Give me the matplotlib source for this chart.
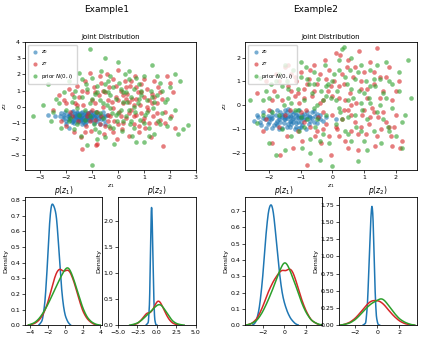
import numpy as np
import matplotlib
matplotlib.use("Agg")
import matplotlib.pyplot as plt

plt.rcParams.update({
    "font.size": 4.5,
    "axes.linewidth": 0.6,
    "xtick.major.size": 2,
    "ytick.major.size": 2,
    "xtick.major.width": 0.5,
    "ytick.major.width": 0.5,
    "xtick.major.pad": 1.5,
    "ytick.major.pad": 1.5,
    "axes.titlepad": 2.5,
    "axes.labelpad": 1.5,
})

BLUE, RED, GREEN = "#1f77b4", "#d62728", "#2ca02c"

# ---------- Example 1: scatter samples ----------
ex1_z0 = [(-2.7,-0.5),(-2.45,-0.55),(-2.25,-0.6),(-2.2,-0.4),(-2.15,-0.75),(-2.1,-0.5),(-2.05,-0.3),(-2.0,-0.9),(-1.9,-1.35),(-1.95,-0.6),
          (-1.9,-0.45),(-1.85,-0.7),(-1.8,-0.95),(-1.8,-0.35),(-1.75,-0.55),(-1.7,-0.8),(-1.7,-1.0),(-1.65,-0.45),(-1.6,-0.65),(-1.6,-0.3),
          (-1.55,-0.75),(-1.5,-0.55),(-1.5,-0.9),(-1.45,-0.4),(-1.45,-0.65),(-1.4,-1.1),(-1.4,-0.5),(-1.35,-0.8),(-1.3,-0.35),(-1.3,-0.6),
          (-1.25,-0.95),(-1.2,-0.7),(-1.2,-0.45),(-1.15,-0.85),(-1.1,-0.55),(-1.1,-0.3),(-1.05,-0.7),(-1.0,-0.5),(-1.0,-0.8),(-0.95,-0.4),
          (-0.9,-0.65),(-0.85,-0.55),(-0.8,-0.9),(-0.75,-0.45),(-0.7,-0.6),(-0.65,-0.75),(-0.6,-0.35),(-0.55,-0.85),(-0.5,-0.6),(-0.45,-0.5),
          (-1.6,-0.85),(-1.45,-0.6),(-1.25,-0.75),(-1.75,-0.25),(-1.35,-0.95),(-1.05,-0.65),(-2.0,-1.05),(-1.55,-0.5),(-0.95,-1.0),(-1.15,-0.4),
          (-1.85,-0.8),(-1.4,-0.3),(-1.65,-0.6),(-1.3,-1.05),(-0.85,-0.75),(-1.5,-0.7),(-1.2,-0.55),(-1.9,-0.55),(-0.7,-1.05),(-0.5,-1.1),
          (-1.5,-0.6),(-1.35,-0.7),(-1.2,-0.5),(-1.6,-0.4),(-1.45,-0.85),(-1.25,-0.6),(-1.1,-0.8),(-1.7,-0.7),(-1.55,-0.95),(-1.0,-0.6),
          (-1.3,-0.45),(-1.85,-0.5),(-0.9,-0.5),(-1.4,-0.75),(-1.15,-0.65),(-1.65,-0.55),(-2.1,-0.65),(-0.75,-0.7),(-1.05,-0.35),(-1.5,-0.45),
          (-1.95,-0.75),(-0.6,-0.55),(-1.3,-0.85),(-1.75,-0.9),(-0.85,-0.35)]

ex1_zT = [(-2.5,-0.2),(-2.3,0.7),(-2.2,-0.9),(-2.1,0.4),(-2.0,-1.2),(-1.9,1.1),(-1.85,-0.3),(-1.8,0.8),(-1.7,-1.6),(-1.65,0.2),
          (-1.6,1.3),(-1.55,-0.9),(-1.5,0.6),(-1.45,-1.9),(-1.4,-2.6),(-1.35,0.1),(-1.3,1.6),(-1.25,-1.2),(-1.2,0.9),(-1.15,-0.4),
          (-1.1,2.1),(-1.05,-1.5),(-1.0,0.4),(-0.95,1.2),(-0.9,-0.8),(-0.85,-2.4),(-0.8,-2.3),(-0.75,0.7),(-0.7,-1.1),(-0.65,1.5),
          (-0.6,0.0),(-0.55,-1.7),(-0.5,0.9),(-0.45,2.0),(-0.4,-0.5),(-0.35,1.2),(-0.3,-1.3),(-0.25,0.3),(-0.2,1.7),(-0.15,-0.9),
          (-0.1,0.6),(-0.05,-2.0),(0.0,2.3),(0.05,-0.3),(0.1,1.0),(0.15,-1.4),(0.2,0.2),(0.25,1.6),(0.3,-0.7),(0.35,0.8),
          (0.4,-1.8),(0.45,1.3),(0.5,-0.2),(0.55,0.5),(0.6,-1.1),(0.65,1.9),(0.7,-0.5),(0.75,0.9),(0.8,-1.6),(0.85,0.1),
          (0.9,1.4),(0.95,-0.9),(1.0,0.6),(1.05,-1.3),(1.1,1.1),(1.15,-0.2),(1.2,0.4),(1.25,-1.9),(1.3,0.8),(1.35,-0.6),
          (1.4,1.6),(1.45,-1.0),(1.5,0.2),(1.55,1.2),(1.6,-0.8),(1.7,0.5),(1.75,-2.45),(1.8,-0.3),(1.9,1.9),(2.0,1.5),
          (2.05,-0.6),(2.2,-1.3),(2.1,0.9),(-0.65,-0.6),(0.3,0.5),(-0.2,-0.1),(0.6,0.1),(-1.0,-0.2),(0.9,-0.4),(-0.4,0.4),
          (-1.6,0.1),(-1.2,-0.6),(-0.9,0.2),(-0.6,1.0),(-0.3,-0.6),(0.0,0.4),(0.2,-1.0),(0.4,0.3),(0.7,0.5),(1.0,-0.7),
          (1.3,0.2),(1.6,0.9),(-1.8,-0.6),(-1.4,1.0),(-0.8,-0.3),(-0.5,-1.2),(-0.1,1.3),(0.3,1.2),(0.6,-0.6),(0.9,0.9),
          (1.2,-1.0),(1.5,-0.4),(-1.1,-0.9),(-0.7,1.9),(-0.2,-1.6),(0.1,-0.6),(0.5,1.6),(0.8,-1.2),(1.1,0.0),(1.4,0.6),
          (-2.0,0.2),(-1.3,-1.6),(-0.4,-0.9),(0.0,-1.1),(0.4,-0.4),(0.7,1.2),(1.0,1.7),(1.8,-1.0),(-0.9,0.9),(0.2,0.7)]

ex1_prior = [(-3.3,-0.55),(-2.9,0.1),(-2.7,1.4),(-2.6,-0.9),(-2.4,0.5),(-2.2,-1.3),(-2.1,0.9),(-2.0,-0.2),(-1.9,1.6),(-1.85,-0.7),
             (-1.8,0.3),(-1.7,-1.4),(-1.65,1.0),(-1.6,-0.1),(-1.5,2.1),(-1.45,-1.8),(-1.4,0.6),(-1.3,-0.8),(-1.25,1.4),(-1.2,-2.4),
             (-1.1,3.6),(-1.1,0.2),(-1.0,-3.6),(-1.0,1.8),(-0.95,-1.1),(-0.9,0.8),(-0.85,-0.3),(-0.8,1.3),(-0.75,-1.6),(-0.7,0.4),
             (-0.65,2.2),(-0.6,-0.7),(-0.55,1.0),(-0.5,3.0),(-0.5,-1.9),(-0.45,0.1),(-0.4,1.6),(-0.35,-1.2),(-0.3,0.7),(-0.25,-0.4),
             (-0.2,1.2),(-0.15,-2.3),(-0.1,0.5),(-0.05,-0.9),(0.0,2.8),(0.05,1.5),(0.1,-0.2),(0.15,-1.5),(0.2,0.9),(0.25,2.0),
             (0.3,-0.6),(0.35,0.3),(0.4,1.7),(0.45,-1.1),(0.5,0.6),(0.55,-1.8),(0.6,1.1),(0.65,-0.3),(0.7,-2.2),(0.75,0.2),
             (0.8,1.4),(0.85,-0.8),(0.9,0.7),(1.0,-2.2),(1.0,1.9),(1.05,-0.5),(1.1,0.4),(1.2,-1.3),(1.25,1.0),(1.3,2.6),
             (1.35,-0.1),(1.4,-1.7),(1.5,0.7),(1.55,-0.9),(1.6,1.5),(1.7,-0.4),(1.8,0.3),(1.9,-1.2),(2.0,1.2),(2.2,2.0),
             (2.2,-0.2),(2.3,-1.7),(2.4,1.6),(2.5,-1.4),(2.7,-1.15),(-0.3,-0.1),(0.6,0.0),(-0.8,0.9),(0.2,-0.9),(-1.5,-0.5),
             (-1.7,0.6),(-1.3,-0.2),(-1.0,0.5),(-0.7,-0.4),(-0.4,0.9),(-0.1,-0.5),(0.2,0.3),(0.5,-0.9),(0.8,0.5),(1.1,-0.3),
             (1.4,0.3),(1.7,1.0),(-2.3,0.2),(-1.9,-0.9),(-1.2,1.1),(-0.9,-1.4),(-0.5,1.4),(-0.2,-1.3),(0.1,1.1),(0.4,-0.2),
             (0.7,1.8),(1.0,-1.0),(1.3,0.6),(1.6,-1.1),(-1.6,-1.1),(-1.1,-0.6),(-0.6,0.2),(-0.3,1.9),(0.0,-0.4),(0.3,0.9),
             (0.6,-1.3),(0.9,1.0),(1.2,-1.8),(1.5,1.9),(2.0,-0.7),(-2.5,-0.3),(-0.8,-2.0),(0.4,2.2),(-1.4,1.7),(1.9,0.5)]

# ---------- Example 2: scatter samples ----------
ex2_z0 = [(-2.5,-0.65),(-2.4,-0.4),(-2.35,-0.5),(-2.25,-0.85),(-2.2,-0.3),(-2.15,-0.6),(-2.1,-0.95),(-2.05,-0.45),(-2.0,-0.7),(-1.95,-0.25),
          (-1.9,-0.55),(-1.85,-0.85),(-1.8,-0.4),(-1.75,-0.65),(-1.7,-1.0),(-1.65,-0.3),(-1.6,-0.5),(-1.55,-0.75),(-1.5,-0.2),(-1.5,-0.6),
          (-1.45,-0.9),(-1.4,-0.45),(-1.35,-0.65),(-1.3,-0.3),(-1.3,-0.8),(-1.25,-0.55),(-1.2,-1.0),(-1.15,-0.4),(-1.1,-0.7),(-1.05,-0.2),
          (-1.0,-0.55),(-0.95,-0.85),(-0.9,-0.35),(-0.85,-0.6),(-0.8,-0.45),(-0.75,-0.8),(-0.7,-0.5),(-0.65,-0.3),(-0.6,-0.7),(-0.55,-0.45),
          (-0.5,-0.75),(-0.45,-0.55),(-0.4,-0.4),(-0.3,-0.65),(-0.2,-0.5),(-1.8,-0.75),(-1.6,-0.95),(-1.4,-0.15),(-1.2,-0.6),(-1.0,-0.9),
          (-1.7,-0.5),(-1.55,-0.35),(-1.35,-0.9),(-1.15,-0.75),(-0.95,-0.5),(-1.95,-0.6),(-2.05,-0.8),(-1.45,-0.55),(-1.25,-0.35),(-0.85,-1.0),
          (-1.75,-0.2),(-1.1,-0.5),(-0.7,-0.65),(-1.65,-0.7),(-2.3,-0.7),(-1.05,-0.95),(-0.6,-0.25),(-1.9,-0.95),(-1.3,-0.5),(0.1,-0.6),
          (-1.5,-0.5),(-1.3,-0.65),(-1.1,-0.4),(-0.9,-0.6),(-1.7,-0.6),(-1.4,-0.8),(-1.2,-0.3),(-1.0,-0.7),(-0.8,-0.3),(-1.6,-0.4),
          (-1.9,-0.4),(-2.0,-0.55),(-1.35,-0.45),(-1.15,-0.9),(-0.65,-0.55),(-0.5,-0.35),(-1.55,-0.6),(-1.25,-0.7),(-0.95,-0.4),(-1.75,-0.85),
          (-2.2,-0.55),(-0.4,-0.6),(-1.45,-0.3),(-1.05,-0.55),(-0.75,-0.45)]

ex2_zT = [(-2.4,0.5),(-2.2,-1.1),(-2.1,1.0),(-2.0,-0.2),(-1.9,-1.6),(-1.85,0.6),(-1.8,1.3),(-1.7,-0.9),(-1.65,-2.1),(-1.6,0.2),
          (-1.5,1.6),(-1.45,-1.3),(-1.4,0.8),(-1.35,-0.2),(-1.3,1.3),(-1.25,-1.8),(-1.2,0.4),(-1.15,1.0),(-1.1,-1.1),(-1.05,0.1),
          (-1.0,1.4),(-0.95,-1.5),(-0.9,0.7),(-0.85,-0.2),(-0.8,-2.5),(-0.75,1.1),(-0.7,-0.9),(-0.65,0.4),(-0.6,1.7),(-0.55,-1.3),
          (-0.5,0.9),(-0.45,-0.5),(-0.4,1.3),(-0.35,-1.6),(-0.3,0.2),(-0.25,1.9),(-0.2,-0.8),(-0.15,0.6),(-0.1,1.5),(-0.05,-2.1),
          (0.0,-0.4),(0.05,1.0),(0.1,2.2),(0.15,-1.0),(0.2,0.3),(0.25,2.1),(0.3,-0.6),(0.35,0.9),(0.4,-1.5),(0.45,1.6),
          (0.5,-0.2),(0.55,0.5),(0.6,-1.1),(0.65,1.2),(0.7,-0.7),(0.75,0.1),(0.8,-1.9),(0.85,2.3),(0.9,0.7),(0.95,-0.4),
          (1.0,1.4),(1.05,-1.2),(1.1,0.3),(1.15,-0.8),(1.2,1.8),(1.25,-0.1),(1.3,0.9),(1.35,-1.7),(1.4,2.4),(1.45,-0.5),
          (1.5,1.2),(1.55,-1.0),(1.6,0.6),(1.7,-0.7),(1.8,1.6),(1.85,-1.3),(1.9,0.2),(2.0,-0.4),(2.1,1.0),(2.2,-1.5),
          (2.15,-1.8),(1.95,-0.9),(0.35,-0.2),(-0.3,-0.3),(0.6,0.0),(-0.9,0.3),(0.2,-1.3),(0.9,-0.9),(1.3,-0.3),(-0.05,0.8),
          (-1.9,0.2),(-1.5,-0.4),(-1.2,1.2),(-0.9,-0.7),(-0.6,0.6),(-0.3,-1.0),(0.0,0.4),(0.3,1.3),(0.6,-0.4),(0.9,1.0),
          (1.2,-0.5),(1.5,0.3),(1.8,-0.9),(-1.7,1.0),(-1.3,0.6),(-1.0,-0.3),(-0.7,1.5),(-0.4,0.1),(-0.1,-1.3),(0.2,0.8),
          (0.5,1.9),(0.8,-1.2),(1.1,0.7),(1.4,-1.3),(1.7,1.2),(2.0,0.6),(-2.1,-0.6),(-1.4,1.7),(-0.8,0.9),(-0.5,-1.1),
          (-0.2,1.1),(0.1,-0.9),(0.4,0.2),(0.7,1.6),(1.0,-0.2),(1.3,1.4),(1.6,-0.3),(1.9,-1.7),(0.5,-1.8),(-1.1,0.5)]

ex2_prior = [(-2.6,0.2),(-2.4,-0.75),(-2.3,1.15),(-2.2,0.2),(-2.1,0.6),(-2.0,-1.6),(-1.95,0.9),(-1.9,-0.3),(-1.8,-2.1),(-1.75,0.4),
             (-1.7,1.3),(-1.6,-1.0),(-1.55,0.0),(-1.5,-1.9),(-1.45,1.0),(-1.4,0.3),(-1.3,-1.3),(-1.25,1.5),(-1.2,-0.2),(-1.1,0.7),
             (-1.05,-1.1),(-1.0,1.2),(-0.95,-1.8),(-0.9,0.2),(-0.85,1.6),(-0.8,-0.6),(-0.75,0.9),(-0.7,-1.4),(-0.65,0.5),(-0.6,1.4),
             (-0.55,-0.9),(-0.5,0.0),(-0.45,1.1),(-0.4,-2.3),(-0.35,0.6),(-0.3,-1.2),(-0.25,1.7),(-0.2,-0.4),(-0.15,0.9),(-0.1,-1.6),
             (-0.05,0.3),(0.0,-2.55),(0.05,1.3),(0.1,-0.8),(0.15,0.6),(0.2,1.9),(0.25,-0.3),(0.3,2.35),(0.35,2.45),(0.4,-1.1),
             (0.45,0.9),(0.5,-0.5),(0.55,1.5),(0.6,-1.5),(0.65,0.3),(0.7,1.1),(0.75,-0.9),(0.8,-2.35),(0.85,0.6),(0.9,1.7),
             (0.95,-0.2),(1.0,-1.5),(1.05,1.0),(1.1,-0.6),(1.15,0.3),(1.2,1.5),(1.3,-1.1),(1.35,0.8),(1.4,-0.3),(1.5,1.1),
             (1.55,-1.6),(1.6,0.5),(1.7,1.8),(1.75,-0.9),(1.8,1.0),(1.9,-0.1),(2.0,-1.3),(2.1,0.6),(2.2,-0.7),(2.4,1.9),
             (2.5,0.3),(2.2,-1.8),(-0.6,-0.1),(0.5,0.2),(-1.0,-0.5),(0.9,0.1),(-0.2,0.4),(1.2,0.1),(0.2,-0.1),(-1.6,0.8),
             (-2.0,0.3),(-1.7,-0.4),(-1.4,0.7),(-1.1,-0.2),(-0.8,1.1),(-0.5,-0.6),(-0.2,0.8),(0.1,0.2),(0.4,1.2),(0.7,-0.4),
             (1.0,0.5),(1.3,1.1),(1.6,-0.6),(1.9,0.9),(-1.8,1.0),(-1.3,0.1),(-0.9,-0.9),(-0.6,0.9),(-0.3,0.2),(0.0,1.0),
             (0.3,-0.6),(0.6,0.7),(0.9,-1.1),(1.2,0.8),(1.5,0.0),(1.8,-1.1),(2.1,1.4),(-2.2,-0.4),(-1.5,1.7),(-1.0,1.8),
             (-0.4,-1.5),(0.2,1.5),(0.5,-1.2),(0.8,1.4),(1.1,-1.9),(1.4,1.7),(1.7,0.3),(2.3,-0.4),(-0.7,-2.0),(0.6,2.0)]

# ---------- density curves: (x, density) ----------
ex1_p1_z0 = [(-3.0,0.0),(-2.6,0.03),(-2.3,0.15),(-2.0,0.42),(-1.8,0.65),(-1.6,0.77),(-1.45,0.78),(-1.2,0.75),(-1.0,0.70),
             (-0.8,0.55),(-0.6,0.38),(-0.4,0.22),(-0.2,0.12),(0.0,0.06),(0.3,0.02),(0.6,0.0)]
ex1_p1_zT = [(-4.2,0.0),(-3.5,0.01),(-3.0,0.03),(-2.5,0.07),(-2.0,0.14),(-1.5,0.25),(-1.0,0.34),(-0.6,0.365),(-0.2,0.34),
             (0.2,0.355),(0.5,0.35),(1.0,0.28),(1.5,0.18),(2.0,0.09),(2.5,0.04),(3.0,0.015),(3.5,0.0)]
ex1_p1_prior = [(-4.2,0.0),(-3.5,0.015),(-3.0,0.04),(-2.5,0.08),(-2.0,0.13),(-1.5,0.19),(-1.0,0.25),(-0.5,0.31),(0.0,0.36),
                (0.3,0.375),(0.6,0.35),(1.0,0.29),(1.5,0.2),(2.0,0.11),(2.5,0.05),(3.0,0.02),(3.5,0.005),(4.0,0.0)]
ex1_p2_z0 = [(-1.4,0.0),(-1.1,0.05),(-0.95,0.4),(-0.85,1.2),(-0.75,2.1),(-0.7,2.33),(-0.62,2.1),(-0.5,1.2),(-0.4,0.5),
             (-0.3,0.12),(-0.15,0.01),(0.0,0.0)]
ex1_p2_zT = [(-3.2,0.0),(-2.5,0.03),(-2.0,0.1),(-1.5,0.2),(-1.2,0.24),(-0.9,0.23),(-0.5,0.3),(-0.2,0.4),(0.1,0.47),(0.4,0.45),
             (0.8,0.33),(1.2,0.2),(1.6,0.1),(2.0,0.04),(2.5,0.01),(3.0,0.0)]
ex1_p2_prior = [(-3.5,0.0),(-3.0,0.015),(-2.5,0.04),(-2.0,0.09),(-1.5,0.16),(-1.0,0.23),(-0.5,0.31),(0.0,0.38),(0.3,0.4),
                (0.6,0.38),(1.0,0.3),(1.5,0.18),(2.0,0.08),(2.5,0.03),(3.0,0.01),(3.5,0.0)]

ex2_p1_z0 = [(-2.9,0.0),(-2.6,0.02),(-2.3,0.1),(-2.0,0.28),(-1.7,0.55),(-1.45,0.71),(-1.2,0.75),(-1.0,0.7),(-0.8,0.57),
             (-0.6,0.42),(-0.4,0.3),(-0.2,0.2),(0.0,0.14),(0.3,0.08),(0.6,0.04),(1.0,0.01),(1.3,0.0)]
ex2_p1_zT = [(-3.5,0.0),(-3.0,0.01),(-2.5,0.04),(-2.0,0.11),(-1.5,0.2),(-1.0,0.27),(-0.5,0.32),(-0.2,0.34),(0.15,0.33),
             (0.5,0.35),(0.8,0.33),(1.2,0.25),(1.6,0.16),(2.0,0.09),(2.5,0.03),(3.0,0.01),(3.3,0.0)]
ex2_p1_prior = [(-3.5,0.0),(-3.0,0.01),(-2.5,0.03),(-2.0,0.08),(-1.5,0.15),(-1.0,0.23),(-0.5,0.32),(-0.1,0.38),(0.1,0.39),
                (0.4,0.36),(0.8,0.29),(1.2,0.22),(1.6,0.14),(2.0,0.08),(2.5,0.03),(3.0,0.01),(3.5,0.0)]
ex2_p2_z0 = [(-1.3,0.0),(-1.05,0.03),(-0.9,0.3),(-0.75,0.9),(-0.6,1.55),(-0.5,1.77),(-0.4,1.6),(-0.3,1.0),(-0.2,0.45),
             (-0.1,0.12),(0.05,0.01),(0.2,0.0)]
ex2_p2_zT = [(-3.3,0.0),(-3.0,0.01),(-2.5,0.04),(-2.0,0.1),(-1.5,0.19),(-1.0,0.29),(-0.6,0.35),(-0.2,0.36),(0.2,0.35),
             (0.6,0.3),(1.0,0.22),(1.5,0.13),(2.0,0.06),(2.5,0.02),(3.0,0.005),(3.3,0.0)]
ex2_p2_prior = [(-3.4,0.0),(-3.0,0.01),(-2.5,0.03),(-2.0,0.08),(-1.5,0.16),(-1.0,0.25),(-0.5,0.32),(0.0,0.36),(0.3,0.39),
                (0.6,0.37),(1.0,0.29),(1.5,0.18),(2.0,0.09),(2.5,0.04),(3.0,0.01),(3.4,0.0)]


def smooth(pts):
    # resample the read-off points and round the corners a little
    p = np.array(pts)
    xs = np.linspace(p[0, 0], p[-1, 0], 400)
    ys = np.interp(xs, p[:, 0], p[:, 1])
    dx = xs[1] - xs[0]
    sig = 0.02 * (xs[-1] - xs[0]) / dx
    k = np.exp(-0.5 * (np.arange(-int(3 * sig), int(3 * sig) + 1) / sig) ** 2)
    k /= k.sum()
    ys = np.convolve(np.pad(ys, len(k) // 2), k, mode="valid")
    return xs, ys


fig = plt.figure(figsize=(4.23, 3.38), dpi=100)

examples = [
    dict(name="Example1", cx=0.253, sc=[0.059, 0.496, 0.404, 0.379],
         k1=[0.059, 0.038, 0.182, 0.379], k2=[0.279, 0.038, 0.184, 0.379],
         pts=(ex1_z0, ex1_zT, ex1_prior), xlim=(-3.6, 3.0), ylim=(-3.95, 4.0),
         d1=(ex1_p1_z0, ex1_p1_zT, ex1_p1_prior), d2=(ex1_p2_z0, ex1_p2_zT, ex1_p2_prior),
         k1x=(-4.6, 4.2), k1y=(0, 0.82), k2x=(-5.0, 5.0), k2y=(0, 2.45),
         k1t=[-4, -2, 0, 2, 4], k2t=[-5.0, -2.5, 0.0, 2.5, 5.0]),
    dict(name="Example2", cx=0.747, sc=[0.580, 0.496, 0.406, 0.379],
         k1=[0.580, 0.038, 0.181, 0.379], k2=[0.801, 0.038, 0.185, 0.379],
         pts=(ex2_z0, ex2_zT, ex2_prior), xlim=(-2.76, 2.68), ylim=(-2.74, 2.65),
         d1=(ex2_p1_z0, ex2_p1_zT, ex2_p1_prior), d2=(ex2_p2_z0, ex2_p2_zT, ex2_p2_prior),
         k1x=(-3.6, 3.5), k1y=(0, 0.785), k2x=(-3.5, 3.6), k2y=(0, 1.86),
         k1t=[-2, 0, 2], k2t=[-2, 0, 2]),
]

labels = ["$z_0$", "$z_T$", "prior $N(0, I)$"]
colors = [BLUE, RED, GREEN]

for ex in examples:
    fig.text(ex["cx"], 0.972, ex["name"], ha="center", va="center", fontsize=6.5)

    ax = fig.add_axes(ex["sc"])
    for pts, c, lab in zip(ex["pts"], colors, labels):
        p = np.array(pts)
        ax.scatter(p[:, 0], p[:, 1], s=11, color=c, alpha=0.6, linewidths=0, label=lab)
    ax.set_xlim(*ex["xlim"])
    ax.set_ylim(*ex["ylim"])
    ax.set_title("Joint Distribution", fontsize=5)
    ax.set_xlabel("$z_1$")
    ax.set_ylabel("$z_2$")
    ax.legend(loc="upper left", fontsize=4, markerscale=0.9, handletextpad=0.3,
              borderpad=0.6, labelspacing=0.7, handlelength=1.5)

    for key, dkey, title, xl, yl, xt in [("k1", "d1", "$p(z_1)$", ex["k1x"], ex["k1y"], ex["k1t"]),
                                         ("k2", "d2", "$p(z_2)$", ex["k2x"], ex["k2y"], ex["k2t"])]:
        kx = fig.add_axes(ex[key])
        for curve, c in zip(ex[dkey], colors):
            xs, ys = smooth(curve)
            kx.plot(xs, ys, color=c, lw=1.1)
        kx.set_xlim(*xl)
        kx.set_ylim(*yl)
        kx.set_xticks(xt)
        kx.set_title(title, fontsize=5.5)
        kx.set_ylabel("Density")

fig.savefig("out.png", dpi=100)
